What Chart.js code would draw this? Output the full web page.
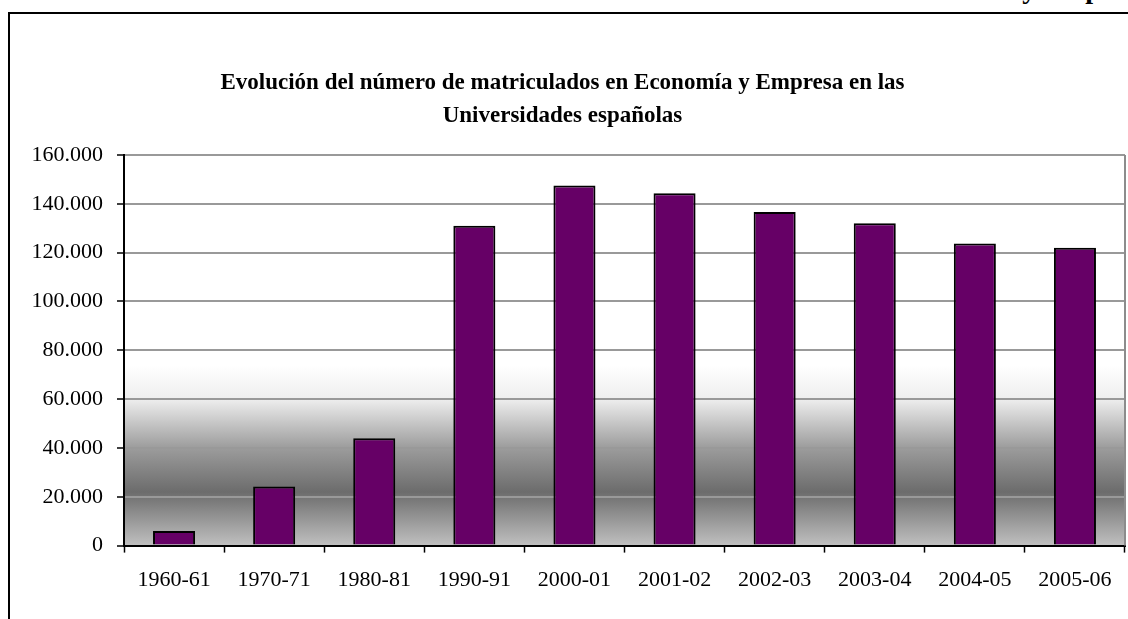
<!DOCTYPE html>
<html>
<head>
<meta charset="utf-8">
<script src="https://cdn.jsdelivr.net/npm/chart.js@4.4.1/dist/chart.umd.min.js"></script>
<style>
  html, body { margin: 0; padding: 0; background: #fff; overflow: hidden; }
  #frame {
    position: absolute; left: 8px; top: 12px; width: 1200px; height: 700px;
    border-top: 2px solid #000; border-left: 2px solid #000;
  }
  #cut {
    position: absolute; right: -22px; top: -25px;
    font: bold 28px 'Liberation Serif', 'Times New Roman', serif; line-height: 1;
    white-space: nowrap;
  }
  #wrap { position: absolute; left: 0; top: 0; width: 1128px; height: 619px; }
</style>
</head>
<body>
<div id="cut">Economía y Empresa</div>
<div id="frame"></div>
<div id="wrap"><canvas id="chart"></canvas></div>
<script>
const years = ['1960-61', '1970-71', '1980-81', '1990-91', '2000-01', '2001-02', '2002-03', '2003-04', '2004-05', '2005-06'];
const matriculados = [6000, 24200, 44000, 131000, 147500, 144300, 136700, 132000, 123800, 122000];
const yTicks = [0, 20000, 40000, 60000, 80000, 100000, 120000, 140000, 160000];

const serif = "'Liberation Serif', 'Times New Roman', serif";

function fmt(v) {
    return String(v).replace(/\B(?=(\d{3})+(?!\d))/g, '.');
}

// grey band behind the bars + right border of the plot
const backdrop = {
    id: 'backdrop',
    beforeDraw(chart) {
        const { ctx, chartArea: a, scales } = chart;
        const y = scales.y;
        const g = ctx.createLinearGradient(0, a.top, 0, a.bottom);
        const at = v => (y.getPixelForValue(v) - a.top) / (a.bottom - a.top);
        g.addColorStop(0, '#ffffff');
        g.addColorStop(at(74000), '#ffffff');
        g.addColorStop(at(60000), '#eeeeee');
        g.addColorStop(at(40000), '#9c9c9c');
        g.addColorStop(at(22000), '#6c6c6c');
        g.addColorStop(1, '#c0c0c0');
        ctx.save();
        ctx.fillStyle = g;
        ctx.fillRect(a.left, a.top, a.right - a.left, a.bottom - a.top);
        ctx.restore();
    },
    afterDraw(chart) {
        const { ctx, chartArea: a } = chart;
        ctx.save();
        ctx.strokeStyle = '#8c8c8c';
        ctx.lineWidth = 2;
        ctx.beginPath();
        ctx.moveTo(a.right, a.top);
        ctx.lineTo(a.right, a.bottom);
        ctx.stroke();
        ctx.restore();
    }
};

new Chart(document.getElementById('chart'), {
    type: 'bar',
    data: {
        labels: years,
        datasets: [{
            label: 'Matriculados',
            data: matriculados,
            backgroundColor: '#660066',
            borderColor: '#000000',
            borderWidth: 2,
            barPercentage: 0.42,
            categoryPercentage: 1.0
        }]
    },
    options: {
        responsive: true,
        maintainAspectRatio: false,
        animation: false,
        layout: { padding: { left: 0, right: 3, top: 0, bottom: 12 } },
        plugins: {
            legend: { display: false },
            tooltip: { enabled: false },
            title: {
                display: true,
                text: ['Evolución del número de matriculados en Economía y Empresa en las', 'Universidades españolas'],
                color: '#000',
                font: { family: serif, size: 23, weight: 'bold', lineHeight: 1.435 },
                padding: { top: 67, bottom: 22 }
            }
        },
        scales: {
            x: {
                grid: {
                    drawOnChartArea: false,
                    drawTicks: true,
                    tickLength: 7,
                    tickColor: '#000',
                    tickWidth: 1.5,
                    offset: true
                },
                border: { color: '#000', width: 2 },
                ticks: {
                    color: '#000',
                    font: { family: serif, size: 22 },
                    padding: 14,
                    maxRotation: 0,
                    autoSkip: false
                }
            },
            y: {
                min: 0,
                max: 160000,
                afterBuildTicks: s => { s.ticks = yTicks.map(v => ({ value: v })); },
                afterFit: s => { s.width = 124; },
                grid: {
                    color: '#999999',
                    lineWidth: 2,
                    tickColor: '#000',
                    tickLength: 7,
                    tickWidth: 1.5
                },
                border: { color: '#000', width: 2 },
                ticks: {
                    color: '#000',
                    font: { family: serif, size: 22 },
                    padding: 14,
                    callback: v => fmt(v)
                }
            }
        }
    },
    plugins: [backdrop]
});
</script>
</body>
</html>
